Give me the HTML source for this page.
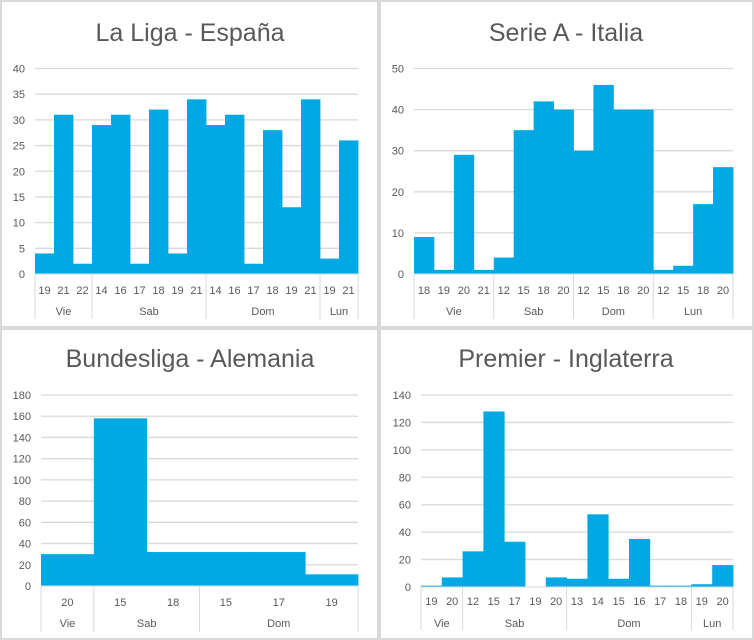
<!DOCTYPE html>
<html><head><meta charset="utf-8">
<style>
html,body{margin:0;padding:0;background:#d9d9d9;}
body{width:754px;height:640px;position:relative;overflow:hidden;font-family:"Liberation Sans","DejaVu Sans",sans-serif;}
.panel{position:absolute;background:#fff;}
svg{position:absolute;left:0;top:0;}
</style></head>
<body>
<div class="panel" style="left:2px;top:2px;width:375px;height:324px"></div>
<div class="panel" style="left:381px;top:2px;width:371px;height:324px"></div>
<div class="panel" style="left:2px;top:330px;width:375px;height:308px"></div>
<div class="panel" style="left:381px;top:330px;width:371px;height:308px"></div>
<svg id="s" width="754" height="640"></svg>
<script>
// La Liga
const ligaGroups = ["Vie","Sab","Dom","Lun"];
const ligaHours = [["19","21","22"],["14","16","17","18","19","21"],["14","16","17","18","19","21"],["19","21"]];
const ligaValues = [4,31,2,29,31,2,32,4,34,29,31,2,28,13,34,3,26];
const ligaTicks = [0,5,10,15,20,25,30,35,40];
// Serie A
const serieGroups = ["Vie","Sab","Dom","Lun"];
const serieHours = [["18","19","20","21"],["12","15","18","20"],["12","15","18","20"],["12","15","18","20"]];
const serieValues = [9,1,29,1,4,35,42,40,30,46,40,40,1,2,17,26];
const serieTicks = [0,10,20,30,40,50];
// Bundesliga
const bundGroups = ["Vie","Sab","Dom"];
const bundHours = [["20"],["15","18"],["15","17","19"]];
const bundValues = [30,158,32,32,32,11];
const bundTicks = [0,20,40,60,80,100,120,140,160,180];
// Premier
const premGroups = ["Vie","Sab","Dom","Lun"];
const premHours = [["19","20"],["12","15","17","19","20"],["13","14","15","16","17","18"],["19","20"]];
const premValues = [1,7,26,128,33,0,7,6,53,6,35,1,1,2,16];
const premTicks = [0,20,40,60,80,100,120,140];

const svg = document.getElementById('s');
const NS = 'http://www.w3.org/2000/svg';
function mk(tag, attrs, parent){
  const e = document.createElementNS(NS, tag);
  for (const k in attrs) e.setAttribute(k, attrs[k]);
  (parent||svg).appendChild(e);
  return e;
}
function chart(id, title, titleX, titleY, groups, hours, values, ticks, x0, x1, y0, y1, tickY, groupY, axisBottom){
  const g = mk('g', {});
  
  
  const t = mk('text', {x:titleX, y:titleY, 'text-anchor':'middle', 'font-size':'25', fill:'#595959'}, g);
  t.textContent = title;
  
  
  const maxT = ticks[ticks.length-1];
  const yScale = v => y0 - (v / maxT) * (y0 - y1);
  ticks.forEach(v => {
    const y = yScale(v);
    if (v > 0) {
      const l = mk('line', {x1:x0, x2:x1, y1:y, y2:y, stroke:'#d9d9d9', 'stroke-width':1.3}, g);
      
      
    }
    const lb = mk('text', {x:x0 - 10, y:y + 4, 'text-anchor':'end', 'font-size':'11', fill:'#595959'}, g);
    lb.textContent = v;
    
    
  });
  const n = values.length;
  const bw = (x1 - x0) / n;
  const xScale = i => x0 + i * bw;
  values.forEach((v, i) => {
    const r = mk('rect', {x:xScale(i), y:yScale(v), width:bw + 0.4, height:y0 - yScale(v), fill:'#00a9e3'}, g);
    
    
  });
  mk('line', {x1:x0, x2:x1, y1:y0, y2:y0, stroke:'#d9d9d9', 'stroke-width':1}, g);
  let idx = 0;
  const sep = x => {
    const l = mk('line', {x1:x, x2:x, y1:y0, y2:axisBottom, stroke:'#d9d9d9', 'stroke-width':1}, g);
    
    
  };
  sep(x0);
  groups.forEach((gn, gi) => {
    const start = idx;
    hours[gi].forEach(h => {
      const tx = mk('text', {x:xScale(idx) + bw/2, y:tickY, 'text-anchor':'middle', 'font-size':'11', fill:'#595959'}, g);
      tx.textContent = h;
      
      
      idx++;
    });
    const gx = (xScale(start) + xScale(idx)) / 2;
    const gt = mk('text', {x:gx, y:groupY, 'text-anchor':'middle', 'font-size':'11', fill:'#595959'}, g);
    gt.textContent = gn;
    
    
    sep(xScale(idx));
  });
}
chart('la-liga', 'La Liga - España', 190, 41, ligaGroups, ligaHours, ligaValues, ligaTicks, 35, 358, 274, 68.5, 294, 315, 319);
chart('serie-a', 'Serie A - Italia', 566, 41, serieGroups, serieHours, serieValues, serieTicks, 414, 733, 274, 68.5, 294, 315, 319);
chart('bundesliga', 'Bundesliga - Alemania', 190, 367, bundGroups, bundHours, bundValues, bundTicks, 41, 358, 586, 395, 606, 627, 632);
chart('premier', 'Premier - Inglaterra', 566, 367, premGroups, premHours, premValues, premTicks, 421, 733, 587, 395, 605, 627, 630);
</script>
</body></html>
